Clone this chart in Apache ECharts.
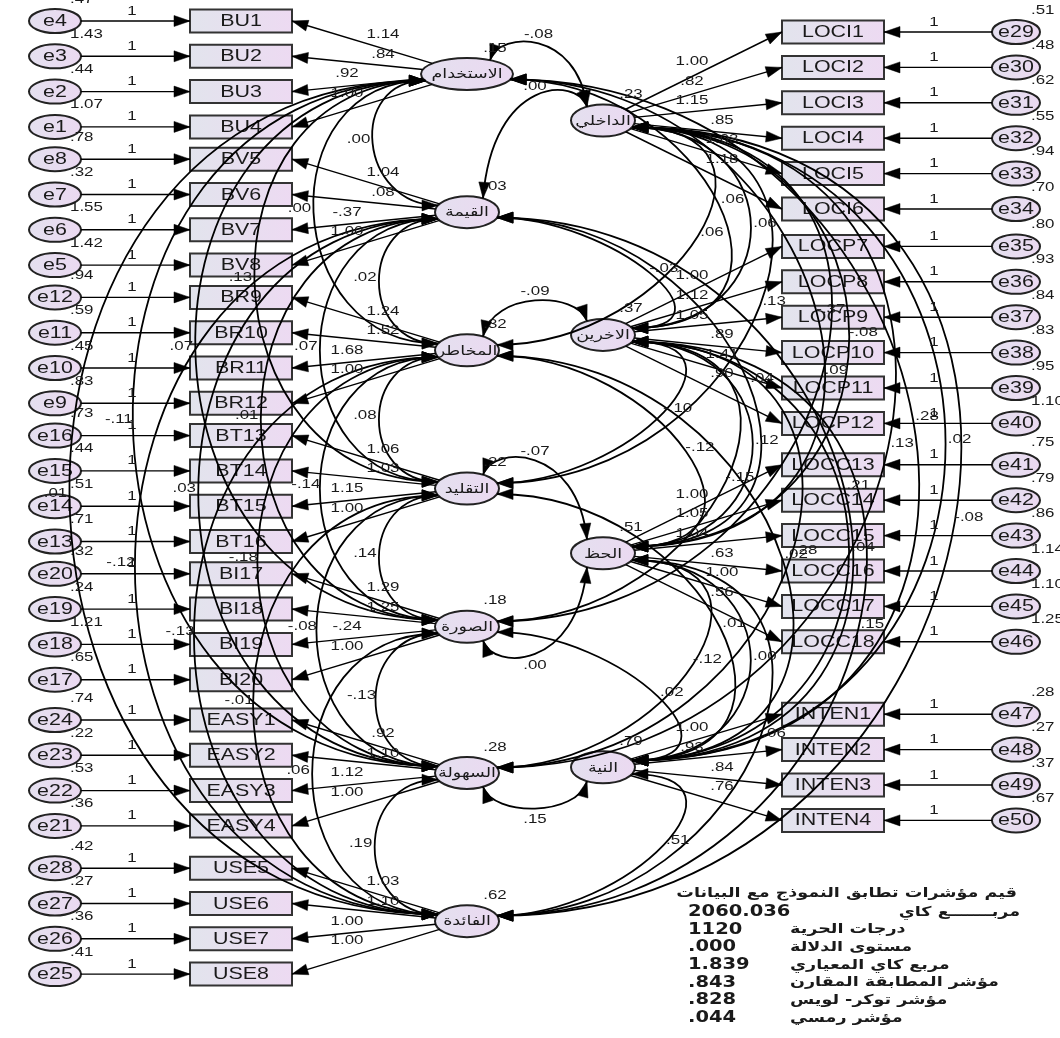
<!DOCTYPE html>
<html>
<head>
<meta charset="utf-8">
<title>AMOS model</title>
<script src="https://cdn.jsdelivr.net/npm/echarts@6.0.0/dist/echarts.min.js"></script>
<style>
  html, body { margin: 0; padding: 0; background: #fff; }
  #main { width: 1060px; height: 1038px; }
</style>
</head>
<body>
<div id="main"></div>
<script>
// ---- data: left block (indicators, errors, loadings, latents) ----
const leftItems = ['BU1','BU2','BU3','BU4','BV5','BV6','BV7','BV8','BR9','BR10','BR11','BR12',
  'BT13','BT14','BT15','BT16','BI17','BI18','BI19','BI20','EASY1','EASY2','EASY3','EASY4',
  'USE5','USE6','USE7','USE8'];
const leftErrors = ['e4','e3','e2','e1','e8','e7','e6','e5','e12','e11','e10','e9','e16','e15','e14','e13',
  'e20','e19','e18','e17','e24','e23','e22','e21','e28','e27','e26','e25'];
const leftErrVar = ['.47','1.43','.44','1.07','.78','.32','1.55','1.42','.94','.59','.45','.83','.73','.44','.51','.71',
  '.32','.24','1.21','.65','.74','.22','.53','.36','.42','.27','.36','.41'];
const leftLoadings = ['1.14','.84','.92','1.00','1.04','.08','-.37','1.00','1.24','1.52','1.68','1.00',
  '1.06','1.03','1.15','1.00','1.29','1.25','-.24','1.00','.92','1.10','1.12','1.00','1.03','1.10','1.00','1.00'];
const leftLatents = ['الاستخدام','القيمة','المخاطر','التقليد','الصورة','السهولة','الفائدة'];
const leftLatentVar = ['.15','.03','.32','.22','.18','.28','.62'];
const leftGroupSize = [4, 4, 4, 4, 4, 4, 4];

// ---- data: right block ----
const rightItems = ['LOCI1','LOCI2','LOCI3','LOCI4','LOCI5','LOCI6','LOCP7','LOCP8','LOCP9','LOCP10','LOCP11','LOCP12',
  'LOCC13','LOCC14','LOCC15','LOCC16','LOCC17','LOCC18','INTEN1','INTEN2','INTEN3','INTEN4'];
const rightErrors = ['e29','e30','e31','e32','e33','e34','e35','e36','e37','e38','e39','e40',
  'e41','e42','e43','e44','e45','e46','e47','e48','e49','e50'];
const rightErrVar = ['.51','.48','.62','.55','.94','.70','.80','.93','.84','.83','.95','1.10',
  '.75','.79','.86','1.14','1.10','1.25','.28','.27','.37','.67'];
const rightLoadings = ['1.00','.82','1.15','.85','1.03','1.18','1.00','1.12','1.05','.89','1.41','.90',
  '1.00','1.05','1.04','.63','1.00','.56','1.00','.93','.84','.76'];
const rightLatents = ['الداخلي','الاخرين','الحظ','النية'];
const rightLatentVar = ['.23','.37','.51','.79'];
const rightGroupSize = [6, 6, 6, 4];

// ---- data: covariances between latent variables ----
const covariances = [
  ['الاستخدام','الداخلي','-.08'], ['الاستخدام','القيمة','.00'], ['القيمة','الداخلي','.00'],
  ['القيمة','الاخرين','-.03'], ['القيمة','المخاطر','.02'], ['المخاطر','الاخرين','-.09'],
  ['المخاطر','التقليد','.08'], ['المخاطر','الحظ','-.12'], ['التقليد','الحظ','-.07'],
  ['التقليد','الصورة','.14'], ['الصورة','الحظ','.00'], ['الصورة','السهولة','-.13'],
  ['السهولة','النية','.15'], ['السهولة','الفائدة','.19'], ['النية','الفائدة','.51'],
  ['الاستخدام','المخاطر','.00'], ['الاستخدام','التقليد','.13'], ['الاستخدام','الصورة','.07'],
  ['الاستخدام','السهولة','-.11'], ['الاستخدام','الفائدة','.01'], ['القيمة','التقليد','.07'],
  ['القيمة','الصورة','.01'], ['القيمة','السهولة','.03'], ['القيمة','الفائدة','-.12'],
  ['المخاطر','الصورة','-.14'], ['المخاطر','السهولة','-.18'], ['المخاطر','الفائدة','-.13'],
  ['التقليد','السهولة','-.08'], ['التقليد','الفائدة','-.01'], ['الصورة','الفائدة','.06'],
  ['الاستخدام','الاخرين','.06'], ['الاستخدام','الحظ','-.37'], ['الاستخدام','النية','.28'],
  ['القيمة','الحظ','.04'], ['القيمة','النية','.21'], ['المخاطر','الداخلي','.06'],
  ['المخاطر','النية','.02'], ['التقليد','الداخلي','.13'], ['التقليد','الاخرين','-.10'],
  ['التقليد','النية','.01'], ['الصورة','الداخلي','.09'], ['الصورة','الاخرين','-.15'],
  ['الصورة','النية','.02'], ['السهولة','الداخلي','.13'], ['السهولة','الاخرين','.28'],
  ['السهولة','الحظ','-.12'], ['الفائدة','الداخلي','-.08'], ['الفائدة','الاخرين','.15'],
  ['الفائدة','الحظ','.06'], ['الداخلي','الاخرين','.06'], ['الداخلي','الحظ','-.08'],
  ['الداخلي','النية','.02'], ['الاخرين','الحظ','.12'], ['الاخرين','النية','.04'],
  ['الحظ','النية','.00']
];

// ---- data: fit indices ----
const fitTitle = 'قيم مؤشرات تطابق النموذج مع البيانات';
const fitLabels = ['مربـــــــع كاي','درجات الحرية','مستوى الدلالة','مربع كاي المعياري','مؤشر المطابقة المقارن','مؤشر توكر- لويس','مؤشر رمسي'];
const fitValues = ['2060.036','1120','.000','1.839','.843','.828','.044'];

// ---- layout ----
const W = 1060, H = 1038;
const SX = 1.3;        // the source picture is stretched horizontally
const FONT = '"Liberation Sans", Arial, "DejaVu Sans", sans-serif';
const BOX_H = 23;
const L = { errX: 55, errRx: 26, errRy: 12, boxX: 190, boxW: 102, latX: 467, oneX: 132, loadX: [383, 347],
  rows: { y0: 21, step: 35.3, gap: [0, -3, -3, -3, -3, 5, 7] } };
const R = { errX: 1016, errRx: 24, errRy: 12, boxX: 782, boxW: 102, latX: 603, oneX: 934, loadX: [692, 722],
  rows: { y0: 32, step: 35.4, gap: [0, 2, 6, 37] } };

const boxFill = new echarts.graphic.LinearGradient(0, 0, 1, 0,
  [{ offset: 0, color: '#e2e4ed' }, { offset: 1, color: '#eddaf2' }]);
const ellFill = new echarts.graphic.LinearGradient(0, 0, 1, 0,
  [{ offset: 0, color: '#e4e0ef' }, { offset: 1, color: '#ebd9f1' }]);

function rowsY(groups, rows) {
  const ys = [];
  let i = 0, shift = 0;
  groups.forEach((n, g) => {
    shift += rows.gap[g];
    for (let k = 0; k < n; k++, i++) ys.push(rows.y0 + i * rows.step + shift);
  });
  return ys;
}
function onEllipse(n, deg) {
  const a = deg * Math.PI / 180;
  return [n.cx + n.rx * Math.cos(a), n.cy + n.ry * Math.sin(a)];
}
function toward(n, p) {
  const dx = p[0] - n.cx, dy = p[1] - n.cy;
  const t = 1 / Math.sqrt((dx / n.rx) ** 2 + (dy / n.ry) ** 2);
  return [n.cx + dx * t, n.cy + dy * t];
}
function bez(P0, P1, P2, P3, t) {
  const u = 1 - t;
  return [0, 1].map(k => u * u * u * P0[k] + 3 * u * u * t * P1[k] + 3 * u * t * t * P2[k] + t * t * t * P3[k]);
}

const nodes = [], links = [], labels = [], latByName = {};

function buildSide(items, errors, errVar, loads, latents, latVar, groups, S, dir) {
  const ys = rowsY(groups, S.rows);
  let start = 0;
  groups.forEach((n, g) => {
    const cy = ys.slice(start, start + n).reduce((a, b) => a + b, 0) / n;
    const name = latents[g];
    const lat = { kind: 'lat', name, cx: S.latX, cy, rx: name.length > 7 ? 46 : 32, ry: 16, side: dir < 0 ? 'L' : 'R' };
    nodes.push(lat);
    latByName[name] = lat;
    labels.push({ text: latVar[g], x: lat.cx + 28, y: cy - 26 });
    for (let j = 0; j < n; j++) {
      const i = start + j, y = ys[i];
      const near = dir < 0 ? S.boxX + S.boxW : S.boxX;
      const far = dir < 0 ? S.boxX : S.boxX + S.boxW;
      nodes.push({ kind: 'box', name: items[i], x0: S.boxX, w: S.boxW, y });
      nodes.push({ kind: 'err', name: errors[i], cx: S.errX, cy: y, rx: S.errRx, ry: S.errRy });
      links.push({ from: toward(lat, [near, y]), to: [near, y] });
      links.push({ from: [S.errX - dir * S.errRx, y], to: [far, y] });
      labels.push({ text: loads[i], x: S.loadX[j < n / 2 ? 0 : 1], y: cy - 10 + (j - (n - 1) / 2) * 19.6 });
      labels.push({ text: '1', x: S.oneX, y: y - 10 });
      labels.push({ text: errVar[i], x: S.errX + 15, y: y - 22, align: 'left' });
    }
    start += n;
  });
}
buildSide(leftItems, leftErrors, leftErrVar, leftLoadings, leftLatents, leftLatentVar, leftGroupSize, L, -1);
buildSide(rightItems, rightErrors, rightErrVar, rightLoadings, rightLatents, rightLatentVar, rightGroupSize, R, 1);

// route each covariance as a cubic curve
function covGeom(a, b) {
  const A = latByName[a], B = latByName[b];
  let P0, P1, P2, P3, off;
  if (A.side === B.side) {
    const [T, U] = A.cy < B.cy ? [A, B] : [B, A];
    const dy = U.cy - T.cy;
    if (A.side === 'L') {
      P0 = onEllipse(T, 155); P3 = onEllipse(U, 205);
      const d = 0.57 * dy;
      P1 = [P0[0] - d, P0[1]]; P2 = [P3[0] - d, P3[1]]; off = [-14, -4];
    } else {
      P0 = onEllipse(T, 25); P3 = onEllipse(U, -25);
      const d = 0.6 * dy + 30;
      P1 = [P0[0] + d, P0[1]]; P2 = [P3[0] + d, P3[1]]; off = [14, -4];
    }
  } else {
    const Lt = A.side === 'L' ? A : B, Rt = A.side === 'L' ? B : A;
    const dy = Rt.cy - Lt.cy;
    if (Math.abs(dy) < 100) {
      if (Lt.cy < 500) {
        P0 = onEllipse(Lt, -60); P3 = onEllipse(Rt, -120);
        const cy = Math.min(P0[1], P3[1]) - 30;
        P1 = [P0[0] + 10, cy]; P2 = [P3[0] - 10, cy]; off = [0, -9];
      } else {
        P0 = onEllipse(Lt, 60); P3 = onEllipse(Rt, 120);
        const cy = Math.max(P0[1], P3[1]) + 30;
        P1 = [P0[0] + 10, cy]; P2 = [P3[0] - 10, cy]; off = [0, 11];
      }
    } else {
      const s = Math.sign(dy);
      P0 = onEllipse(Lt, 20 * s); P3 = onEllipse(Rt, -25 * s);
      const d = Math.min(0.6 * Math.abs(dy) + 40, 530);
      P1 = [P0[0] + d, P0[1]]; P2 = [P3[0] + d, P3[1]]; off = [14, -4];
    }
  }
  return { P0, P1, P2, P3, off };
}
const covGeo = covariances.map(([a, b, v]) => {
  const g = covGeom(a, b);
  const m = bez(g.P0, g.P1, g.P2, g.P3, 0.5);
  labels.push({ text: v, x: m[0] + g.off[0], y: m[1] + g.off[1] });
  return g;
});

// fit table
const TABLE_FONT = '"DejaVu Sans", sans-serif';
labels.push({ text: fitTitle, x: 1017, y: 893, align: 'right', size: 13.5, bold: true, family: TABLE_FONT });
fitValues.forEach((v, k) => {
  const y = 912 + k * 17.7;
  labels.push({ text: v, x: 688, y, align: 'left', size: 15, bold: true, family: TABLE_FONT });
  labels.push({ text: fitLabels[k], x: k === 0 ? 1020 : 790, y, align: k === 0 ? 'right' : 'left', size: 13.5, bold: true, family: TABLE_FONT });
});

// ---- render helpers ----
function textEl(api, text, x, y, size, align, bold, family) {
  const p = api.coord([x, y]);
  return {
    type: 'text', x: p[0], y: p[1], scaleX: SX,
    style: {
      text, x: 0, y: 0, fill: '#1a1a1a',
      font: (bold ? 'bold ' : '') + size + 'px ' + (family || FONT),
      align, verticalAlign: 'middle', textAlign: align, textVerticalAlign: 'middle'
    }
  };
}
function head(api, tip, from) {
  const T = api.coord(tip), F = api.coord(from);
  let dx = T[0] - F[0], dy = T[1] - F[1];
  const len = Math.hypot(dx, dy) || 1;
  dx /= len; dy /= len;
  const bx = T[0] - dx * 16, by = T[1] - dy * 16, h = 5.5;
  return { type: 'polygon', shape: { points: [T, [bx - dy * h, by + dx * h], [bx + dy * h, by - dx * h]] },
    style: { fill: '#000', stroke: '#000', lineWidth: 0.5 } };
}

function renderNode(params, api) {
  const n = nodes[params.dataIndex];
  if (n.kind === 'box') {
    const p = api.coord([n.x0, n.y - BOX_H / 2]);
    const s = api.size([n.w, BOX_H]);
    return { type: 'group', children: [
      { type: 'rect', shape: { x: p[0], y: p[1], width: s[0], height: s[1] },
        style: { fill: boxFill, stroke: '#333', lineWidth: 2 } },
      textEl(api, n.name, n.x0 + n.w / 2, n.y + 0.5, 16.5, 'center')
    ] };
  }
  const c = api.coord([n.cx, n.cy]);
  const r = api.size([n.rx, n.ry]);
  return { type: 'group', children: [
    { type: 'ellipse', shape: { cx: c[0], cy: c[1], rx: r[0], ry: r[1] },
      style: { fill: ellFill, stroke: '#222', lineWidth: 2 } },
    textEl(api, n.name, n.cx, n.cy + 0.5, n.kind === 'lat' ? 13.5 : 16.5, 'center')
  ] };
}
function renderLink(params, api) {
  const l = links[params.dataIndex];
  const a = api.coord(l.from), b = api.coord(l.to);
  return { type: 'group', children: [
    { type: 'line', shape: { x1: a[0], y1: a[1], x2: b[0], y2: b[1] }, style: { stroke: '#000', lineWidth: 1.4, fill: 'none' } },
    head(api, l.to, l.from)
  ] };
}
function renderCov(params, api) {
  const g = covGeo[params.dataIndex];
  const [p0, p1, p2, p3] = [g.P0, g.P1, g.P2, g.P3].map(p => api.coord(p));
  return { type: 'group', children: [
    { type: 'bezierCurve', shape: { x1: p0[0], y1: p0[1], cpx1: p1[0], cpy1: p1[1], cpx2: p2[0], cpy2: p2[1], x2: p3[0], y2: p3[1] },
      style: { stroke: '#000', lineWidth: 1.8, fill: 'none' } },
    head(api, g.P0, g.P1),
    head(api, g.P3, g.P2)
  ] };
}
function renderLabel(params, api) {
  const t = labels[params.dataIndex];
  return textEl(api, t.text, t.x, t.y, t.size || 13, t.align || 'center', t.bold, t.family);
}

function customSeries(name, items, render, z) {
  return { type: 'custom', name, coordinateSystem: 'cartesian2d', data: items.map(() => [0, 0]),
    renderItem: render, clip: false, silent: true, z, animation: false };
}

const chart = echarts.init(document.getElementById('main'));
chart.setOption({
  animation: false,
  backgroundColor: '#fff',
  grid: { left: 0, right: 0, top: 0, bottom: 0 },
  xAxis: { type: 'value', min: 0, max: W, show: false },
  yAxis: { type: 'value', min: 0, max: H, inverse: true, show: false },
  series: [
    customSeries('nodes', nodes, renderNode, 1),
    customSeries('paths', links, renderLink, 2),
    customSeries('covariances', covGeo, renderCov, 2),
    customSeries('labels', labels, renderLabel, 3)
  ]
});
</script>
</body>
</html>
